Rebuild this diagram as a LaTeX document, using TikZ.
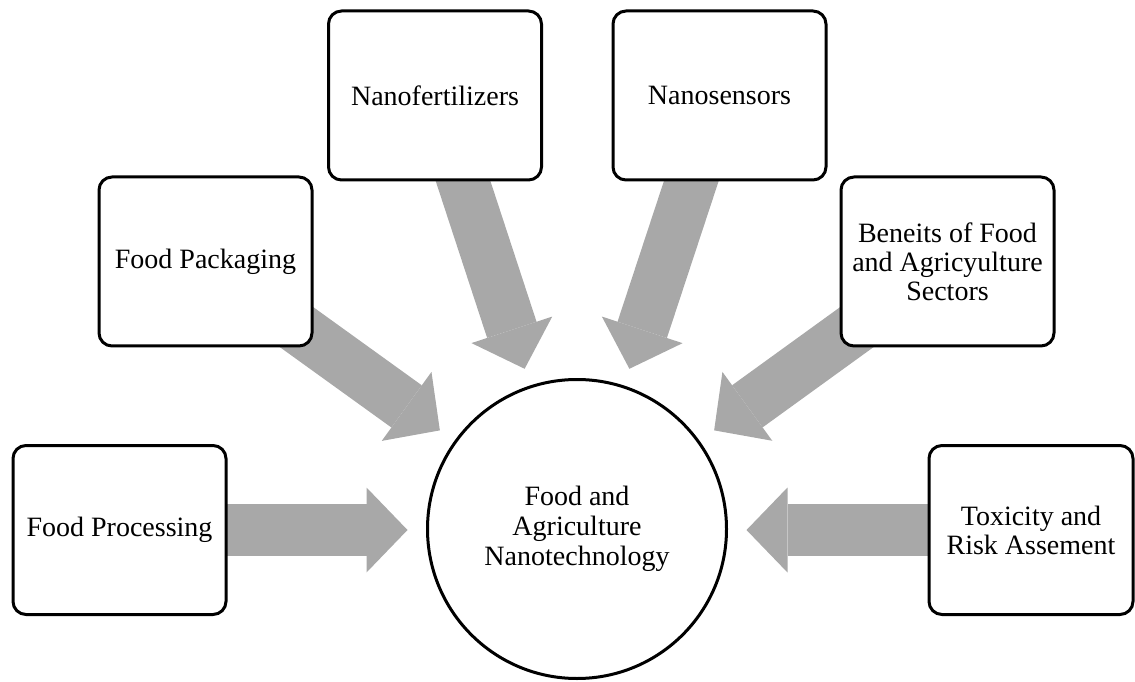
\documentclass[tikz,border=0pt]{standalone}
\usepackage{fontspec}
\setmainfont{Liberation Serif}
\usetikzlibrary{arrows.meta,backgrounds,calc}
\definecolor{arrowgray}{RGB}{168,168,168}
\begin{document}
\begin{tikzpicture}[x=1pt,y=1pt,
  topic/.style={draw=black, line width=3pt, fill=white, rounded corners=13pt,
    minimum width=213pt, minimum height=169pt, inner sep=0pt, align=center,
    font=\fontsize{28}{29}\selectfont},
  hubnode/.style={circle, draw=black, line width=3pt, fill=white,
    minimum size=299pt, inner sep=0pt, align=center,
    font=\fontsize{28}{30}\selectfont},
  feed/.style={draw=arrowgray, line width=52pt,
    -{Triangle[length=41pt,width=85pt,line width=0pt]}}]
\useasboundingbox (0,0) rectangle (1135,681);

% centre the six block arrows aim at
\coordinate (c) at (577,151);

\node[hubnode] (hub) at (577,152) {Food and\\Agriculture\\Nanotechnology};

\node[topic] (proc) at (119.5,151) {Food Processing};
\node[topic] (pack) at (205.5,419.5) {Food Packaging};
\node[topic] (fert) at (435,585.5) {Nanofertilizers};
\node[topic] (sens) at (719.5,585.5) {Nanosensors};
\node[topic] (ben)  at (947.5,419.5) {Beneits of Food\\and Agricyulture\\Sectors};
\node[topic, minimum width=204pt] (tox) at (1031,151) {Toxicity and\\Risk Assement};

% arrow tips sit on a ring around the centre
\foreach \n/\a in {proc/180, pack/144, fert/108, sens/72, ben/36, tox/0}
  \coordinate (tip-\n) at ($(c)+(\a:169.5)$);

\begin{scope}[on background layer]
  \foreach \n in {proc, pack, fert, sens, ben, tox}
    \draw[feed] (\n.center) -- (tip-\n);
\end{scope}
\end{tikzpicture}
\end{document}
